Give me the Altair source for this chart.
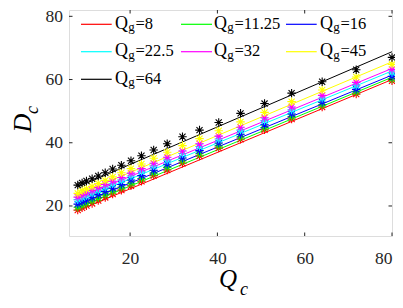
import altair as alt
import pandas as pd

# ---------------- data ----------------
QC = [8, 9, 10, 11.3, 12.7, 14.3, 16, 18, 20.2, 22.6, 25.4, 28.5, 32, 35.9,
      40.3, 45.3, 50.8, 57, 64, 71.8, 80]
SERIES_LABELS = ["8", "11.25", "16", "22.5", "32", "45", "64"]
COLORS = ["#ff0000", "#00ff00", "#0000ff", "#00ffff", "#ff00ff", "#ffff00", "#000000"]

DC_8 = [18.7, 19.4, 20.1, 20.8, 21.7, 22.7, 23.8, 25.0, 26.4, 27.8, 29.6, 31.4,
        33.5, 35.8, 38.3, 41.1, 44.1, 47.5, 51.3, 55.4, 59.6]
DC_11 = [19.6, 20.3, 20.9, 21.7, 22.6, 23.6, 24.7, 25.9, 27.2, 28.7, 30.4, 32.2,
         34.3, 36.5, 39.0, 41.8, 44.8, 48.2, 52.0, 56.1, 60.2]
DC_16 = [20.6, 21.3, 21.9, 22.7, 23.6, 24.6, 25.6, 26.8, 28.2, 29.6, 31.3, 33.2,
         35.2, 37.5, 39.9, 42.7, 45.7, 49.1, 52.8, 56.9, 61.0]
DC_22 = [22.0, 22.7, 23.3, 24.1, 25.0, 26.0, 27.0, 28.2, 29.5, 31.0, 32.7, 34.5,
         36.6, 38.8, 41.2, 44.0, 47.0, 50.4, 54.1, 58.1, 62.2]
DC_32 = [22.8, 23.5, 24.1, 24.9, 25.8, 26.8, 27.8, 29.0, 30.4, 31.8, 33.5, 35.4,
         37.4, 39.7, 42.1, 44.9, 47.9, 51.3, 55.0, 59.1, 63.2]
DC_45 = [24.0, 24.8, 25.4, 26.2, 27.1, 28.1, 29.2, 30.5, 31.8, 33.3, 35.1, 37.0,
         39.1, 41.3, 43.8, 46.6, 49.6, 53.0, 56.7, 60.8, 64.8]
DC_64 = [26.6, 27.3, 27.9, 28.6, 29.5, 30.5, 31.7, 32.9, 34.3, 35.9, 37.7, 39.7,
         41.9, 44.0, 46.4, 49.3, 52.4, 55.7, 59.3, 63.1, 67.0]
DC_ALL = [DC_8, DC_11, DC_16, DC_22, DC_32, DC_45, DC_64]

FIT_X = [8, 80]
FIT_START = [18.5, 19.4, 20.4, 21.7, 22.5, 23.6, 26.0]
FIT_END = [60.0, 60.7, 61.4, 62.7, 63.5, 65.6, 68.8]

TICKS = [20, 40, 60, 80]

# ---------------- layout ----------------
W, H = 323, 226
TOP = 10  # page y of the plot area's top edge
FONT = "Liberation Serif"
AXC = "#262626"
SIDS = [str(i + 1) for i in range(len(SERIES_LABELS))]

pts = pd.DataFrame([
    {"sid": SIDS[i], "qc": q, "dc": v}
    for i, ys in enumerate(DC_ALL) for q, v in zip(QC, ys)
])
fits = pd.DataFrame([
    {"sid": SIDS[i], "qc": FIT_X[j], "dc": [FIT_START[i], FIT_END[i]][j]}
    for i in range(len(SIDS)) for j in range(2)
])
ticks = pd.DataFrame({"v": TICKS})

color = alt.Color("sid:N", scale=alt.Scale(domain=SIDS, range=COLORS), legend=None)

xaxis = alt.Axis(values=TICKS, ticks=False, tickSize=0, domain=False, grid=False,
                 labelFont=FONT, labelFontSize=17.5, labelColor=AXC,
                 labelPadding=13, title=None)
yaxis = alt.Axis(values=TICKS, ticks=False, tickSize=0, domain=False, grid=False,
                 labelFont=FONT, labelFontSize=17.5, labelColor=AXC,
                 labelPadding=6.5, title=None)
xs = alt.Scale(domain=[6, 80], nice=False, zero=False)
ys = alt.Scale(domain=[10.5, 82.0], nice=False, zero=False)


def X(f):
    return alt.X(f, scale=xs, axis=xaxis)


def Y(f):
    return alt.Y(f, scale=ys, axis=yaxis)


lines = alt.Chart(fits).mark_line(strokeWidth=1).encode(
    x=X("qc:Q"), y=Y("dc:Q"), color=color)

ASTER = "M0,-1L0,1M-1,0L1,0M-0.72,-0.72L0.72,0.72M-0.72,0.72L0.72,-0.72"
points = alt.Chart(pts).mark_point(shape=ASTER, filled=False, size=72,
                                   strokeWidth=1.1, opacity=1).encode(
    x=X("qc:Q"), y=Y("dc:Q"), color=color)

TL = 3.5
tb = alt.Chart(ticks).mark_rule(color=AXC, strokeWidth=1).encode(
    x=X("v:Q"), y=alt.value(H), y2=alt.value(H - TL))
tt = alt.Chart(ticks).mark_rule(color=AXC, strokeWidth=1).encode(
    x=X("v:Q"), y=alt.value(0), y2=alt.value(TL))
tl = alt.Chart(ticks).mark_rule(color=AXC, strokeWidth=1).encode(
    y=Y("v:Q"), x=alt.value(0), x2=alt.value(TL))
tr = alt.Chart(ticks).mark_rule(color=AXC, strokeWidth=1).encode(
    y=Y("v:Q"), x=alt.value(W), x2=alt.value(W - TL))

main = alt.layer(lines, points, tb, tt, tl, tr)

# ---------------- pixel-space overlay: legend and axis titles ----------------
PX = alt.Scale(domain=[0, W], range=[0, W])
PY = alt.Scale(domain=[0, H], range=[0, H])

COL_LINE0 = [12, 112, 217]
COL_LINE1 = [42.7, 143, 247.7]
COL_Q = [46, 145, 251]
ROW_LINE = [24.3 - TOP, 51.7 - TOP, 79.3 - TOP]
ROW_BASE = [28.5 - TOP, 56.0 - TOP, 83.7 - TOP]

leg_rows = []
for i, lab in enumerate(SERIES_LABELS):
    r, c = divmod(i, 3)
    leg_rows.append({"sid": SIDS[i], "lx0": COL_LINE0[c], "lx1": COL_LINE1[c],
                     "ly": ROW_LINE[r], "qx": COL_Q[c], "gx": COL_Q[c] + 13.2,
                     "ex": COL_Q[c] + 20.5, "by": ROW_BASE[r],
                     "gy": ROW_BASE[r] + 2.5, "lab": "=" + lab})
leg = pd.DataFrame(leg_rows)

leg_lines = alt.Chart(leg).mark_rule(strokeWidth=1.2).encode(
    x=alt.X("lx0:Q", scale=PX, axis=None), x2="lx1:Q",
    y=alt.Y("ly:Q", scale=PY, axis=None), color=color)
leg_q = alt.Chart(leg).mark_text(text="Q", font=FONT, fontSize=18, align="left",
                                 baseline="alphabetic", color="#000000").encode(
    x=alt.X("qx:Q", scale=PX, axis=None), y=alt.Y("by:Q", scale=PY, axis=None))
leg_g = alt.Chart(leg).mark_text(text="g", font=FONT, fontSize=13, align="left",
                                 baseline="alphabetic", color="#000000").encode(
    x=alt.X("gx:Q", scale=PX, axis=None), y=alt.Y("gy:Q", scale=PY, axis=None))
leg_e = alt.Chart(leg).mark_text(font=FONT, fontSize=16.5, align="left",
                                 baseline="alphabetic", color="#000000").encode(
    x=alt.X("ex:Q", scale=PX, axis=None), y=alt.Y("by:Q", scale=PY, axis=None),
    text="lab:N")

one = pd.DataFrame({"a": [0]})


def txt(t, x, y, size, angle=0, align="left"):
    return alt.Chart(one).mark_text(
        text=t, font=FONT, fontSize=size, fontStyle="italic", align=align,
        baseline="alphabetic", angle=angle, color="#000000").encode(
        x=alt.X("a:Q", scale=PX, axis=None), xOffset=alt.value(x),
        y=alt.Y("a:Q", scale=PY, axis=None), yOffset=alt.value(y))


titles = [
    txt("D", -38, 123 - TOP, 26, angle=270, align="center"),
    txt("c", -31, 114 - TOP, 18, angle=270, align="left"),
    txt("Q", 150, 287 - TOP, 25),
    txt("c", 171, 295 - TOP, 18),
]

overlay = alt.layer(leg_lines, leg_q, leg_g, leg_e, *titles)

chart = alt.layer(main, overlay).resolve_scale(
    x="independent", y="independent"
).properties(
    width=W, height=H,
    padding={"left": 61, "top": TOP - 8, "right": 3, "bottom": 64},
    autosize=alt.AutoSizeParams(type="none"),
).configure_view(stroke="#404040", strokeWidth=1).configure(background="#ffffff")

chart.save("out.html", embed_options={"renderer": "svg", "actions": False})
